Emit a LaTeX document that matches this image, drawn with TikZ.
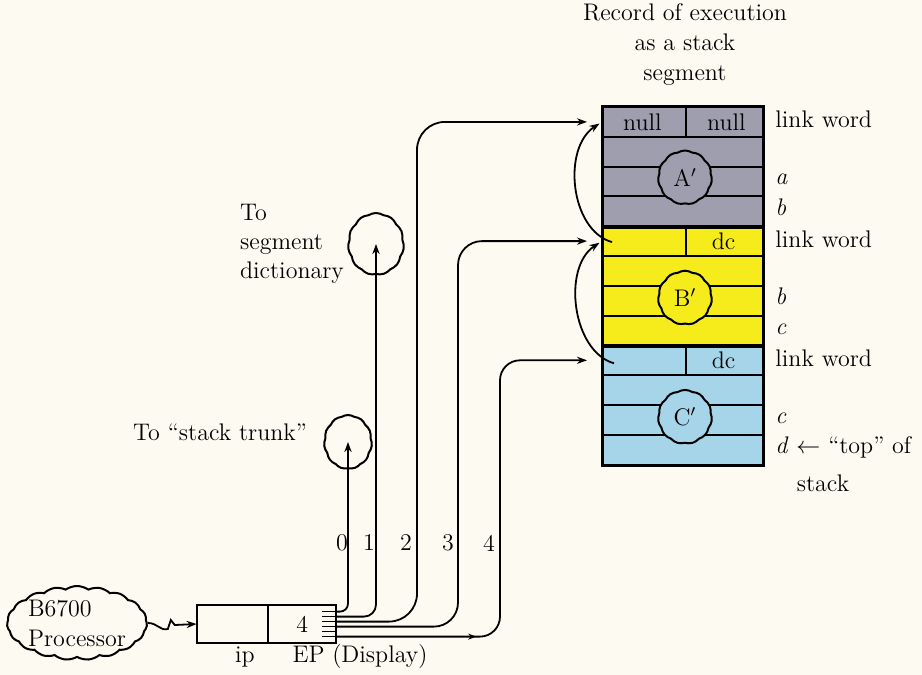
\documentclass[tikz,border=0pt]{standalone}
\usepackage{amsmath,amssymb}
\usepackage{tikz}
\usetikzlibrary{arrows.meta,shapes.symbols,calc,decorations.markings}

\definecolor{paper}{RGB}{252,250,241}
\definecolor{stackgray}{RGB}{158,158,174}
\definecolor{stackyellow}{RGB}{246,236,28}
\definecolor{stackblue}{RGB}{166,212,232}

\tikzset{
  row/.style={draw,line width=1pt,minimum width=80pt,minimum height=14.9pt,inner sep=0pt},
  blob/.style={cloud,cloud puffs=11,cloud puff arc=65,cloud ignores aspect,draw,
    line width=1pt,inner sep=0pt,minimum width=27pt,minimum height=27pt},
  wire/.style={line width=.9pt,rounded corners=9pt},
  tip/.style={-{Stealth[length=5pt,width=3.6pt]}},
  lbl/.style={anchor=west,inner sep=0pt,text height=8.5pt,text depth=2.5pt},
  reg/.style={minimum height=19pt,inner sep=0pt},
}

\begin{document}
\begin{tikzpicture}[x=.5pt,y=-.5pt,>=Stealth,font=\fontsize{12}{15}\selectfont]
  \fill[paper] (0,0) rectangle (922,675);
  \useasboundingbox (0,0) rectangle (922,675);

  % stack segment
  \foreach \i/\c in {0/stackgray,1/stackgray,2/stackgray,3/stackgray,
      4/stackyellow,5/stackyellow,6/stackyellow,7/stackyellow,
      8/stackblue,9/stackblue,10/stackblue,11/stackblue}
    \node[row,fill=\c] (r\i) at (683,{121.9+29.8*\i}) {};
  \draw[line width=1.3pt] (r3.south west) -- (r3.south east);
  \draw[line width=1.3pt] (r7.south west) -- (r7.south east);
  \draw[line width=1.3pt] (r0.north west) rectangle (r11.south east);
  \foreach \i in {0,4,8}
    \draw[line width=1pt] ($(r\i.north)+(3,0)$) -- ($(r\i.south)+(3,0)$);
  \node (null1) at ($(r0.center)!.5!(r0.west)$) {null};
  \node (null2) at ($(r0.center)!.5!(r0.east)+(3,0)$) {null};
  \node (dc1) at ($(r4.center)!.5!(r4.east)$) {dc};
  \node (dc2) at ($(r8.center)!.5!(r8.east)$) {dc};

  \node[blob,fill=stackgray] (Ablob) at ($(r2.center)+(2,-4)$) {A$'$};
  \node[blob,fill=stackyellow] (Bblob) at ($(r6.center)+(2,-3)$) {B$'$};
  \node[blob,fill=stackblue] (Cblob) at ($(r10.center)+(2,-3)$) {C$'$};

  \node[align=center] (title) at (685,45) {Record of execution\\as a stack\\segment};

  % labels right of the stack
  \node[lbl] (lw0) at ($(r0.east)+(11,0)$) {link word};
  \node[lbl] (la) at ($(r2.east)+(11,-3)$) {\textit{a}};
  \node[lbl] (lb) at ($(r3.east)+(11,-2)$) {\textit{b}};
  \node[lbl] (lw4) at ($(r4.east)+(11,0)$) {link word};
  \node[lbl] (lb2) at ($(r6.east)+(11,-2)$) {\textit{b}};
  \node[lbl] (lc) at ($(r7.east)+(11,-2)$) {\textit{c}};
  \node[lbl] (lw8) at ($(r8.east)+(11,0)$) {link word};
  \node[lbl] (lc2) at ($(r10.east)+(11,-2)$) {\textit{c}};
  \node[lbl] (ltop) at ($(r11.east)+(11,-2)$) {\textit{d} $\leftarrow$ ``top'' of};
  \node (stk) at (823,483) {stack};

  % links between the records
  \draw[line width=.9pt,tip,shorten >=1.5pt] ($(r4.west)+(10,1)$)
    .. controls +(-42,-12) and +(-40,26) .. (r0.west);
  \draw[line width=.9pt,tip,shorten >=1.5pt] ($(r8.west)+(12,3)$)
    .. controls +(-42,-12) and +(-40,26) .. (r4.west);

  % outside targets
  \node[blob,minimum width=28pt,minimum height=31pt] (dict) at (376,244) {};
  \node[align=left,anchor=west,font=\fontsize{12}{14.5}\selectfont] (dtxt) at (233,244)
    {To\\segment\\dictionary};
  \node[blob,minimum width=24pt,minimum height=27pt] (trunk) at (348,442) {};
  \node[anchor=east] (ttxt) at (314,432) {To ``stack trunk''};

  % processor and registers
  \node[cloud,cloud puffs=19,cloud puff arc=70,cloud ignores aspect,draw,line width=1pt,
    minimum width=70pt,minimum height=37pt,inner sep=0pt,align=left] (proc) at (77,623)
    {B6700\\Processor};
  \node[reg,minimum width=35.5pt] (ip) at (232.5,624) {};
  \node[reg,minimum width=33.5pt,anchor=west] (ep) at (ip.east) {4};
  \draw[line width=1pt] (ip.north west) rectangle (ep.south east);
  \draw[line width=1pt] (ip.north east) -- (ip.south east);
  \node (iplab) at (245,657) {ip};
  \node (eplab) at (360,657) {EP (Display)};
  \draw[line width=.9pt,tip] (proc.east) .. controls +(10,0) and +(-8,2) .. ++(20,6)
    -- ++(3,-9) -- ++(4,5) -- (ip.west);

  \foreach \k in {0,...,5} {
    \coordinate (x\k) at ($(ep.north east)+(0,{7+5*\k})$);
    \draw[line width=.8pt] ($(x\k)+(-14,0)$) -- (x\k);
  }
  \coordinate (v2) at (417,600);
  \coordinate (v3) at (458,600);
  \coordinate (v4) at (500,600);

  \draw[wire,rounded corners=4pt,tip] (x0) -| (trunk.center);
  \draw[wire,rounded corners=6pt,tip] (x1) -| (dict.center);
  \draw[wire,rounded corners=14pt,tip,shorten >=7.5pt] (x2) -| (v2 |- r0.west) -- (r0.west);
  \draw[wire,rounded corners=12pt,tip,shorten >=7.5pt] (x3) -| (v3 |- r4.west) -- (r4.west);
  \draw[wire,rounded corners=10pt,tip,shorten >=7.5pt,
    postaction={decorate,decoration={markings,mark=at position 70pt with {\arrow{Stealth[length=4pt,width=3pt]}}}}]
    (x5) -| (v4 |- r8.west) -- (r8.west);

  \foreach \n/\x in {0/342,1/369,2/406,3/448,4/489}
    \node (num\n) at (\x,543) {\n};
\end{tikzpicture}
\end{document}
